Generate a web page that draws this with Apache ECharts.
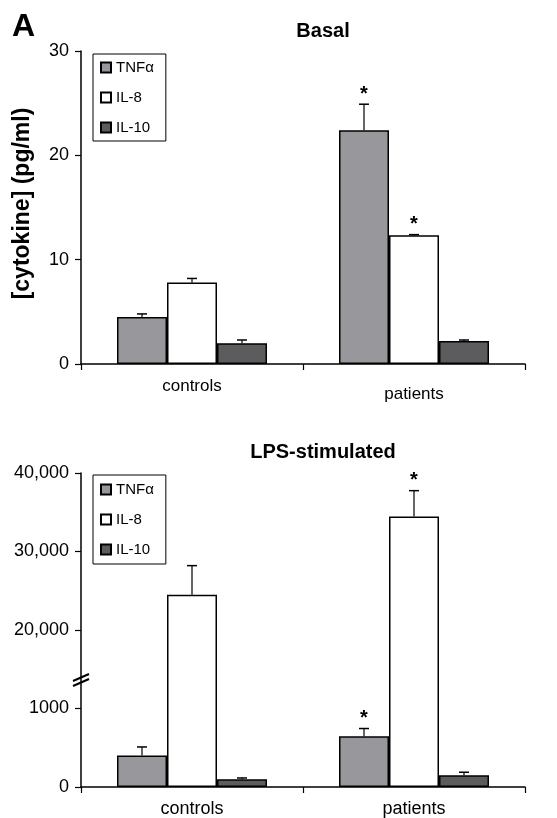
<!DOCTYPE html>
<html>
<head>
<meta charset="utf-8">
<script src="https://cdn.jsdelivr.net/npm/echarts@6/dist/echarts.min.js"></script>
<style>
  html, body { margin: 0; padding: 0; background: #fff; }
  #main { width: 557px; height: 818px; }
</style>
</head>
<body>
<div id="main"></div>
<script>
// categories and series names
var categories = ['controls', 'patients'];
var cytokines = ['TNFα', 'IL-8', 'IL-10'];

// Basal, pg/ml (mean and SEM)
var basalTNF = [4.5, 22.4];
var basalIL8 = [7.8, 12.35];
var basalIL10 = [2.0, 2.2];
var basalTNFSem = [0.3, 2.5];
var basalIL8Sem = [0.4, 0.05];
var basalIL10Sem = [0.3, 0.1];
var basalTNFSig = [0, 1];
var basalIL8Sig = [0, 1];
var basalIL10Sig = [0, 0];

// LPS-stimulated, pg/ml
var lpsTNF = [400, 645];
var lpsIL8 = [24500, 34450];
var lpsIL10 = [100, 150];
var lpsTNFSem = [110, 100];
var lpsIL8Sem = [3700, 3300];
var lpsIL10Sem = [15, 38];
var lpsTNFSig = [0, 1];
var lpsIL8Sig = [0, 1];
var lpsIL10Sig = [0, 0];

// tick labels
var basalTicks = [0, 10, 20, 30];
var lpsLowTicks = [0, 1000];              // lower scale (TNFα, IL-10)
var lpsHighTicks = [20000, 30000, 40000]; // upper scale (IL-8)

var colors = ['#98989c', '#ffffff', '#5c5c5e'];
var barW = 50;
var font = 'Liberation Sans, Arial, sans-serif';

function errData(mean, sem, sig) {
  return mean.map(function (m, i) { return [i, m, m + sem[i], sig[i]]; });
}

function errSeries(k, xi, yi, mean, sem, sig) {
  return {
    type: 'custom',
    xAxisIndex: xi,
    yAxisIndex: yi,
    z: 5,
    silent: true,
    data: errData(mean, sem, sig),
    renderItem: function (params, api) {
      var p0 = api.coord([api.value(0), api.value(1)]);
      var p1 = api.coord([api.value(0), api.value(2)]);
      var x = p0[0] + (k - 1) * barW;
      var kids = [
        { type: 'line', shape: { x1: x, y1: p0[1], x2: x, y2: p1[1] }, style: { stroke: '#000', lineWidth: 1.2 } },
        { type: 'line', shape: { x1: x - 5, y1: p1[1], x2: x + 5, y2: p1[1] }, style: { stroke: '#000', lineWidth: 1.5 } }
      ];
      if (api.value(3)) {
        kids.push({ type: 'text', style: { text: '*', x: x, y: p1[1] - 10, textAlign: 'center', textVerticalAlign: 'middle', font: 'bold 20px ' + font, fill: '#000' } });
      }
      return { type: 'group', children: kids };
    }
  };
}

function barSeries(k, xi, yi, data) {
  return {
    name: cytokines[k],
    type: 'bar',
    xAxisIndex: xi,
    yAxisIndex: yi,
    barWidth: barW,
    barGap: '0%',
    data: data,
    itemStyle: { color: colors[k], borderColor: '#000', borderWidth: 1.5 }
  };
}

function catAxis(gi, size, margin, drop) {
  return {
    type: 'category',
    gridIndex: gi,
    data: [categories[0], { value: categories[1], textStyle: { padding: [drop, 0, 0, 0] } }],
    axisLine: { lineStyle: { color: '#000', width: 1.5 } },
    axisTick: { show: true, alignWithLabel: false, length: 6, lineStyle: { color: '#000', width: 1.2 } },
    axisLabel: { color: '#000', fontSize: size, fontFamily: font, margin: margin }
  };
}

function legendBox(top, pad) {
  return {
    data: cytokines,
    orient: 'vertical',
    left: 93,
    top: top,
    borderColor: '#000',
    borderWidth: 1,
    backgroundColor: '#fff',
    padding: [pad, 12, pad, 7],
    itemGap: 15,
    itemWidth: 10,
    itemHeight: 10,
    icon: 'rect',
    textStyle: { color: '#000', fontSize: 15, fontFamily: font }
  };
}

var valAxisBase = {
  position: 'left',
  axisLine: { show: true, lineStyle: { color: '#000', width: 1.5 } },
  axisTick: { show: true, length: 6, lineStyle: { color: '#000', width: 1.2 } },
  splitLine: { show: false },
  axisLabel: { color: '#000', fontSize: 18, fontFamily: font, margin: 12 }
};

var myChart = echarts.init(document.getElementById('main'));
var option = {
  backgroundColor: '#fff',
  animation: false,
  graphic: [
    { type: 'text', left: 12, top: 11, style: { text: 'A', font: 'bold 32px ' + font, fill: '#000' } },
    { type: 'text', x: 323, y: 31, style: { text: 'Basal', textAlign: 'center', textVerticalAlign: 'middle', font: 'bold 20px ' + font, fill: '#000' } },
    { type: 'text', x: 323, y: 452, style: { text: 'LPS-stimulated', textAlign: 'center', textVerticalAlign: 'middle', font: 'bold 20px ' + font, fill: '#000' } },
    // axis break marks
    { type: 'line', z: 10, shape: { x1: 73, y1: 681, x2: 89, y2: 674 }, style: { stroke: '#000', lineWidth: 2 } },
    { type: 'line', z: 10, shape: { x1: 73, y1: 686, x2: 89, y2: 679 }, style: { stroke: '#000', lineWidth: 2 } }
  ],
  legend: [legendBox(54, 6), legendBox(475, 7)],
  grid: [
    { left: 81, top: 51, width: 444, height: 313 },
    { left: 81, top: 473, width: 444, height: 315 }
  ],
  xAxis: [catAxis(0, 17, 14, 8), catAxis(1, 18, 13, 0)],
  yAxis: [
    echarts.util.merge({
      type: 'value', gridIndex: 0, min: 0, max: 30, interval: 10,
      name: '[cytokine] (pg/ml)', nameLocation: 'middle', nameGap: 47,
      nameTextStyle: { color: '#000', fontSize: 23, fontWeight: 'bold', fontFamily: font, padding: [0, 0, 0, 8] },
      axisLabel: { formatter: function (v) { return basalTicks.indexOf(v) >= 0 ? String(v) : ''; } }
    }, valAxisBase, false),
    echarts.util.merge({
      type: 'value', gridIndex: 1, min: 0, max: 40000, interval: 10000,
      axisLabel: { formatter: function (v) { return lpsHighTicks.indexOf(v) >= 0 ? v.toLocaleString('en-US') : ''; } }
    }, valAxisBase, false),
    echarts.util.merge({
      type: 'value', gridIndex: 1, min: 0, max: 4000, interval: 1000,
      axisLine: { show: false }, axisTick: { show: false },
      axisLabel: { formatter: function (v) { return lpsLowTicks.indexOf(v) >= 0 ? String(v) : ''; } }
    }, valAxisBase, false)
  ],
  series: [
    barSeries(0, 0, 0, basalTNF),
    barSeries(1, 0, 0, basalIL8),
    barSeries(2, 0, 0, basalIL10),
    errSeries(0, 0, 0, basalTNF, basalTNFSem, basalTNFSig),
    errSeries(1, 0, 0, basalIL8, basalIL8Sem, basalIL8Sig),
    errSeries(2, 0, 0, basalIL10, basalIL10Sem, basalIL10Sig),
    barSeries(0, 1, 2, lpsTNF),
    barSeries(1, 1, 1, lpsIL8),
    barSeries(2, 1, 2, lpsIL10),
    errSeries(0, 1, 2, lpsTNF, lpsTNFSem, lpsTNFSig),
    errSeries(1, 1, 1, lpsIL8, lpsIL8Sem, lpsIL8Sig),
    errSeries(2, 1, 2, lpsIL10, lpsIL10Sem, lpsIL10Sig)
  ]
};
myChart.setOption(option);
</script>
</body>
</html>
